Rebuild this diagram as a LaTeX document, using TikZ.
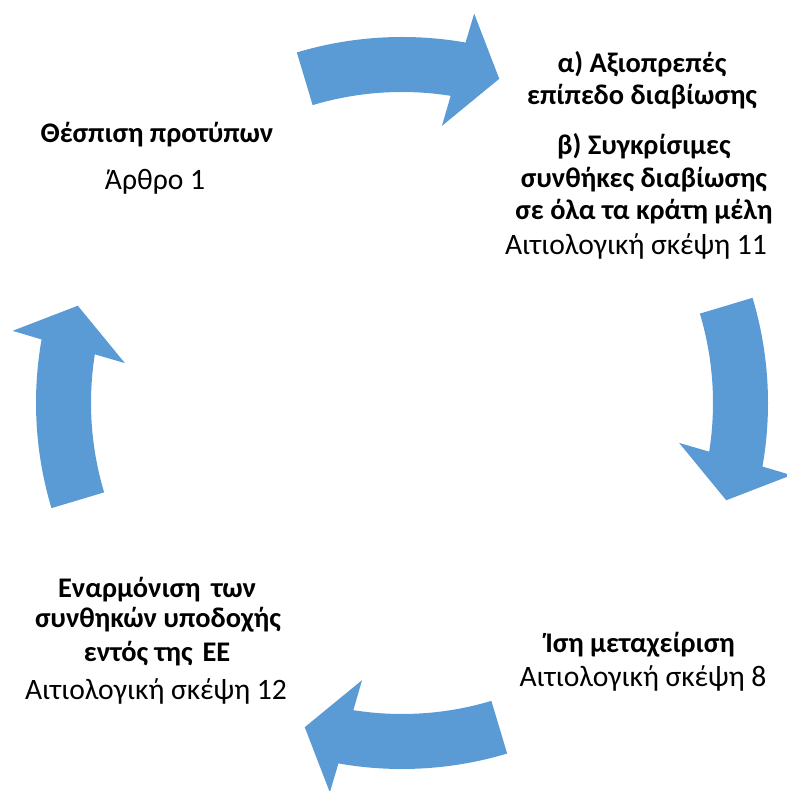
\documentclass[tikz,border=0pt]{standalone}
\usepackage{fontspec}
\setmainfont{Carlito}
\definecolor{arrowblue}{HTML}{5B9BD5}
\tikzset{
  txt/.style={anchor=base, inner sep=0pt, font=\fontsize{14.8}{17}\selectfont},
  btxt/.style={anchor=base, inner sep=0pt, font=\fontsize{14.2}{17}\selectfont\bfseries},
}
\newcommand{\cyclearrow}[1]{%
  \fill[arrowblue] (#1+16.7:366) arc[start angle=#1+16.7, end angle=#1-10, radius=366]
    -- (#1-10.5:396) -- (#1-16.7:338.5) -- (#1-8.2:280) -- (#1-9:311)
    arc[start angle=#1-9, end angle=#1+16.7, radius=311] -- cycle;}
\begin{document}
\begin{tikzpicture}[x=0.5pt,y=0.5pt]
\useasboundingbox (0,0) rectangle (786,791);
\begin{scope}[shift={(402,388)}]
  \cyclearrow{90}
  \cyclearrow{0}
  \cyclearrow{-90}
  \cyclearrow{180}
\end{scope}
% top left
\node[btxt] (t1) at (157,791-143) {Θέσπιση προτύπων};
\node[txt] (t2) at (155,791-190) {Άρθρο 1};
% top right
\node[btxt] (r1) at (642,791-73) {α) Αξιοπρεπές};
\node[btxt] (r2) at (642,791-105) {επίπεδο διαβίωσης};
\node[btxt] (r3) at (644,791-155) {β) Συγκρίσιμες};
\node[btxt] (r4) at (644,791-188) {συνθήκες διαβίωσης};
\node[btxt] (r5) at (644,791-220) {σε όλα τα κράτη μέλη};
\node[txt] (r6) at (636,791-255) {Αιτιολογική σκέψη 11};
% bottom right
\node[btxt] (b1) at (640,791-653) {Ίση μεταχείριση};
\node[txt] (b2) at (643,791-687) {Αιτιολογική σκέψη 8};
% bottom left
\node[btxt] (l1) at (157,791-598) {Εναρμόνιση\hspace{0.15em} των};
\node[btxt] (l2) at (158,791-628) {συνθηκών υποδοχής};
\node[btxt] (l3) at (157,791-662) {εντός της\hspace{0.12em} ΕΕ};
\node[txt] (l4) at (156,791-700) {Αιτιολογική σκέψη 12};
\end{tikzpicture}
\end{document}
